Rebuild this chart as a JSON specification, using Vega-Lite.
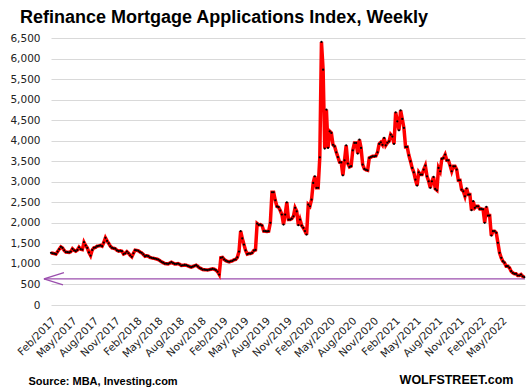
{
"$schema": "https://vega.github.io/schema/vega-lite/v6.json",
"width": 474, "height": 267,
"autosize": {"type": "none"},
"padding": {"left": 51, "top": 38, "right": 5, "bottom": 87},
"background": "white",
"title": {"text": "Refinance Mortgage Applications Index, Weekly", "anchor": "start", "frame": "group", "dx": -31, "font": "Liberation Sans", "fontSize": 18, "fontWeight": "bold", "color": "#000000", "offset": 6},
"config": {"view": {"stroke": null}, "font": "DejaVu Sans"},
"data": {"values": [
{"d":"2017/01/20","v":1270},{"d":"2017/01/27","v":1260},{"d":"2017/02/03","v":1250},{"d":"2017/02/10","v":1240},{"d":"2017/02/17","v":1300},{"d":"2017/02/24","v":1360},{"d":"2017/03/03","v":1416},{"d":"2017/03/10","v":1390},{"d":"2017/03/17","v":1330},{"d":"2017/03/24","v":1290},{"d":"2017/03/31","v":1285},{"d":"2017/04/07","v":1280},{"d":"2017/04/14","v":1300},{"d":"2017/04/21","v":1367},{"d":"2017/04/28","v":1330},{"d":"2017/05/05","v":1310},{"d":"2017/05/12","v":1340},{"d":"2017/05/19","v":1406},{"d":"2017/05/26","v":1360},{"d":"2017/06/02","v":1350},{"d":"2017/06/09","v":1528},{"d":"2017/06/16","v":1450},{"d":"2017/06/23","v":1390},{"d":"2017/06/30","v":1280},{"d":"2017/07/07","v":1204},{"d":"2017/07/14","v":1340},{"d":"2017/07/21","v":1391},{"d":"2017/07/28","v":1400},{"d":"2017/08/04","v":1431},{"d":"2017/08/11","v":1440},{"d":"2017/08/18","v":1450},{"d":"2017/08/25","v":1431},{"d":"2017/09/01","v":1520},{"d":"2017/09/08","v":1635},{"d":"2017/09/15","v":1560},{"d":"2017/09/22","v":1500},{"d":"2017/09/29","v":1430},{"d":"2017/10/06","v":1391},{"d":"2017/10/13","v":1380},{"d":"2017/10/20","v":1370},{"d":"2017/10/27","v":1330},{"d":"2017/11/03","v":1310},{"d":"2017/11/10","v":1320},{"d":"2017/11/17","v":1310},{"d":"2017/11/24","v":1240},{"d":"2017/12/01","v":1260},{"d":"2017/12/08","v":1300},{"d":"2017/12/15","v":1260},{"d":"2017/12/22","v":1210},{"d":"2017/12/29","v":1173},
{"d":"2018/01/05","v":1260},{"d":"2018/01/12","v":1334},{"d":"2018/01/19","v":1330},{"d":"2018/01/26","v":1320},{"d":"2018/02/02","v":1290},{"d":"2018/02/09","v":1270},{"d":"2018/02/16","v":1230},{"d":"2018/02/23","v":1188},{"d":"2018/03/02","v":1200},{"d":"2018/03/09","v":1188},{"d":"2018/03/16","v":1160},{"d":"2018/03/23","v":1148},{"d":"2018/03/30","v":1140},{"d":"2018/04/06","v":1130},{"d":"2018/04/13","v":1120},{"d":"2018/04/20","v":1107},{"d":"2018/04/27","v":1080},{"d":"2018/05/04","v":1050},{"d":"2018/05/11","v":1030},{"d":"2018/05/18","v":1010},{"d":"2018/05/25","v":1005},{"d":"2018/06/01","v":1000},{"d":"2018/06/08","v":1020},{"d":"2018/06/15","v":1042},{"d":"2018/06/22","v":1020},{"d":"2018/06/29","v":1000},{"d":"2018/07/06","v":1000},{"d":"2018/07/13","v":1010},{"d":"2018/07/20","v":990},{"d":"2018/07/27","v":961},{"d":"2018/08/03","v":965},{"d":"2018/08/10","v":975},{"d":"2018/08/17","v":969},{"d":"2018/08/24","v":950},{"d":"2018/08/31","v":935},{"d":"2018/09/07","v":920},{"d":"2018/09/14","v":935},{"d":"2018/09/21","v":955},{"d":"2018/09/28","v":969},{"d":"2018/10/05","v":940},{"d":"2018/10/12","v":905},{"d":"2018/10/19","v":885},{"d":"2018/10/26","v":864},{"d":"2018/11/02","v":860},{"d":"2018/11/09","v":855},{"d":"2018/11/16","v":850},{"d":"2018/11/23","v":860},{"d":"2018/11/30","v":870},{"d":"2018/12/07","v":880},{"d":"2018/12/14","v":870},{"d":"2018/12/21","v":850},{"d":"2018/12/28","v":810},
{"d":"2019/01/04","v":742},{"d":"2019/01/11","v":1150},{"d":"2019/01/18","v":1160},{"d":"2019/01/25","v":1110},{"d":"2019/02/01","v":1080},{"d":"2019/02/08","v":1060},{"d":"2019/02/15","v":1051},{"d":"2019/02/22","v":1065},{"d":"2019/03/01","v":1075},{"d":"2019/03/08","v":1100},{"d":"2019/03/15","v":1110},{"d":"2019/03/22","v":1160},{"d":"2019/03/29","v":1300},{"d":"2019/04/05","v":1796},{"d":"2019/04/12","v":1620},{"d":"2019/04/19","v":1472},{"d":"2019/04/26","v":1330},{"d":"2019/05/03","v":1240},{"d":"2019/05/10","v":1253},{"d":"2019/05/17","v":1253},{"d":"2019/05/24","v":1270},{"d":"2019/05/31","v":1326},{"d":"2019/06/07","v":1340},{"d":"2019/06/14","v":1983},{"d":"2019/06/21","v":1950},{"d":"2019/06/28","v":1959},{"d":"2019/07/05","v":1934},{"d":"2019/07/12","v":1800},{"d":"2019/07/19","v":1796},{"d":"2019/07/26","v":1790},{"d":"2019/08/02","v":1796},{"d":"2019/08/09","v":2000},{"d":"2019/08/16","v":2745},{"d":"2019/08/23","v":2745},{"d":"2019/08/30","v":2550},{"d":"2019/09/06","v":2400},{"d":"2019/09/13","v":2380},{"d":"2019/09/20","v":2300},{"d":"2019/09/27","v":2202},{"d":"2019/10/04","v":1959},{"d":"2019/10/11","v":2202},{"d":"2019/10/18","v":2501},{"d":"2019/10/25","v":2080},{"d":"2019/11/01","v":2080},{"d":"2019/11/08","v":2100},{"d":"2019/11/15","v":2160},{"d":"2019/11/22","v":2365},{"d":"2019/11/29","v":2282},{"d":"2019/12/06","v":1942},{"d":"2019/12/13","v":2080},{"d":"2019/12/20","v":1934},{"d":"2019/12/27","v":1878},
{"d":"2020/01/03","v":1800},{"d":"2020/01/10","v":1715},{"d":"2020/01/17","v":2445},{"d":"2020/01/24","v":2404},{"d":"2020/01/31","v":2567},{"d":"2020/02/07","v":2973},{"d":"2020/02/14","v":3134},{"d":"2020/02/21","v":2852},{"d":"2020/02/28","v":2852},{"d":"2020/03/06","v":3596},{"d":"2020/03/13","v":6404},{"d":"2020/03/20","v":5730},{"d":"2020/03/27","v":3808},{"d":"2020/04/03","v":4757},{"d":"2020/04/10","v":3825},{"d":"2020/04/17","v":4229},{"d":"2020/04/24","v":4190},{"d":"2020/05/01","v":3900},{"d":"2020/05/08","v":3860},{"d":"2020/05/15","v":3718},{"d":"2020/05/22","v":3600},{"d":"2020/05/29","v":3475},{"d":"2020/06/05","v":3470},{"d":"2020/06/12","v":3158},{"d":"2020/06/19","v":3523},{"d":"2020/06/26","v":3888},{"d":"2020/07/03","v":3443},{"d":"2020/07/10","v":3362},{"d":"2020/07/17","v":3380},{"d":"2020/07/24","v":3766},{"d":"2020/07/31","v":3945},{"d":"2020/08/07","v":3945},{"d":"2020/08/14","v":3686},{"d":"2020/08/21","v":4027},{"d":"2020/08/28","v":3825},{"d":"2020/09/04","v":3418},{"d":"2020/09/11","v":3313},{"d":"2020/09/18","v":3290},{"d":"2020/09/25","v":3280},{"d":"2020/10/02","v":3581},{"d":"2020/10/09","v":3600},{"d":"2020/10/16","v":3621},{"d":"2020/10/23","v":3621},{"d":"2020/10/30","v":3630},{"d":"2020/11/06","v":3718},{"d":"2020/11/13","v":3922},{"d":"2020/11/20","v":3961},{"d":"2020/11/27","v":3900},{"d":"2020/12/04","v":4068},{"d":"2020/12/11","v":3888},{"d":"2020/12/18","v":3950},{"d":"2020/12/25","v":3985},
{"d":"2021/01/01","v":4148},{"d":"2021/01/08","v":4100},{"d":"2021/01/15","v":3922},{"d":"2021/01/22","v":4691},{"d":"2021/01/29","v":4472},{"d":"2021/02/05","v":4253},{"d":"2021/02/12","v":4740},{"d":"2021/02/19","v":4530},{"d":"2021/02/26","v":4311},{"d":"2021/03/05","v":3849},{"d":"2021/03/12","v":3849},{"d":"2021/03/19","v":3645},{"d":"2021/03/26","v":3499},{"d":"2021/04/02","v":3338},{"d":"2021/04/09","v":3231},{"d":"2021/04/16","v":3054},{"d":"2021/04/23","v":2908},{"d":"2021/04/30","v":3231},{"d":"2021/05/07","v":3175},{"d":"2021/05/14","v":3175},{"d":"2021/05/21","v":3297},{"d":"2021/05/28","v":3394},{"d":"2021/06/04","v":3134},{"d":"2021/06/11","v":3012},{"d":"2021/06/18","v":2852},{"d":"2021/06/25","v":3012},{"d":"2021/07/02","v":3118},{"d":"2021/07/09","v":2827},{"d":"2021/07/16","v":2793},{"d":"2021/07/23","v":3338},{"d":"2021/07/30","v":3256},{"d":"2021/08/06","v":3557},{"d":"2021/08/13","v":3581},{"d":"2021/08/20","v":3662},{"d":"2021/08/27","v":3523},{"d":"2021/09/03","v":3520},{"d":"2021/09/10","v":3394},{"d":"2021/09/17","v":3256},{"d":"2021/09/24","v":3377},{"d":"2021/10/01","v":3377},{"d":"2021/10/08","v":3297},{"d":"2021/10/15","v":3037},{"d":"2021/10/22","v":3037},{"d":"2021/10/29","v":2810},{"d":"2021/11/05","v":2769},{"d":"2021/11/12","v":2647},{"d":"2021/11/19","v":2842},{"d":"2021/11/26","v":2689},{"d":"2021/12/03","v":2689},{"d":"2021/12/10","v":2307},{"d":"2021/12/17","v":2526},{"d":"2021/12/24","v":2365},{"d":"2021/12/31","v":2404},
{"d":"2022/01/07","v":2404},{"d":"2022/01/14","v":2340},{"d":"2022/01/21","v":2340},{"d":"2022/01/28","v":2330},{"d":"2022/02/04","v":2000},{"d":"2022/02/11","v":2389},{"d":"2022/02/18","v":2178},{"d":"2022/02/25","v":2178},{"d":"2022/03/04","v":1691},{"d":"2022/03/11","v":1796},{"d":"2022/03/18","v":1796},{"d":"2022/03/25","v":1757},{"d":"2022/04/01","v":1513},{"d":"2022/04/08","v":1270},{"d":"2022/04/15","v":1148},{"d":"2022/04/22","v":1066},{"d":"2022/04/29","v":1030},{"d":"2022/05/06","v":944},{"d":"2022/05/13","v":944},{"d":"2022/05/20","v":905},{"d":"2022/05/27","v":822},{"d":"2022/06/03","v":783},{"d":"2022/06/10","v":759},{"d":"2022/06/17","v":759},{"d":"2022/06/24","v":718},{"d":"2022/07/01","v":718},{"d":"2022/07/08","v":742},{"d":"2022/07/15","v":700},{"d":"2022/07/22","v":676}
]},
"encoding": {
"x": {"field": "d", "type": "temporal",
 "scale": {"domain": [{"year": 2017, "month": 1, "date": 20}, {"year": 2022, "month": 7, "date": 25}]},
 "axis": {"values": [
  {"year":2017,"month":2,"date":1},{"year":2017,"month":5,"date":1},{"year":2017,"month":8,"date":1},{"year":2017,"month":11,"date":1},
  {"year":2018,"month":2,"date":1},{"year":2018,"month":5,"date":1},{"year":2018,"month":8,"date":1},{"year":2018,"month":11,"date":1},
  {"year":2019,"month":2,"date":1},{"year":2019,"month":5,"date":1},{"year":2019,"month":8,"date":1},{"year":2019,"month":11,"date":1},
  {"year":2020,"month":2,"date":1},{"year":2020,"month":5,"date":1},{"year":2020,"month":8,"date":1},{"year":2020,"month":11,"date":1},
  {"year":2021,"month":2,"date":1},{"year":2021,"month":5,"date":1},{"year":2021,"month":8,"date":1},{"year":2021,"month":11,"date":1},
  {"year":2022,"month":2,"date":1},{"year":2022,"month":5,"date":1}],
  "format": "%b/%Y", "labelAngle": -45, "labelAlign": "right", "labelBaseline": "middle", "labelPadding": 14,
  "ticks": false, "domain": false, "grid": false, "labelOverlap": false, "labelFlush": false,
  "labelFontSize": 10.5, "labelColor": "#222222",
  "title": "Source: MBA, Investing.com", "titleX": -23, "titleY": 79, "titleAlign": "left", "titleBaseline": "alphabetic",
  "titleFont": "Liberation Sans", "titleFontSize": 11, "titleFontWeight": "bold", "titleColor": "#000000"}},
"y": {"field": "v", "type": "quantitative",
 "scale": {"domain": [0, 6500], "nice": false},
 "axis": {"values": [0,500,1000,1500,2000,2500,3000,3500,4000,4500,5000,5500,6000,6500], "format": ",.0f",
  "grid": true, "gridColor": "#d9d9d9", "gridWidth": 1, "domain": false, "ticks": false, "labelPadding": 11,
  "labelFontSize": 10.5, "labelColor": "#222222",
  "title": "WOLFSTREET.com", "titleAngle": 0, "titleX": 462, "titleY": 345.5, "titleAlign": "right", "titleBaseline": "alphabetic",
  "titleFont": "Liberation Sans", "titleFontSize": 12.5, "titleFontWeight": "bold", "titleColor": "#000000"}}
},
"layer": [
 {"data": {"values": [
  {"d": "2016/12/21", "v": 637, "d2": "2022/07/25", "v2": 637},
  {"d": "2016/12/21", "v": 637, "d2": "2017/03/16", "v2": 790},
  {"d": "2016/12/21", "v": 637, "d2": "2017/03/12", "v2": 490}]},
  "mark": {"type": "rule", "color": "#9b4fae", "strokeWidth": 1.3},
  "encoding": {"x2": {"field": "d2"}, "y2": {"field": "v2"}}},
 {"mark": {"type": "line", "color": "#ff0000", "strokeWidth": 3.5}, "encoding": {}},
 {"mark": {"type": "circle", "color": "#000000", "size": 5, "opacity": 1}}
]
}
